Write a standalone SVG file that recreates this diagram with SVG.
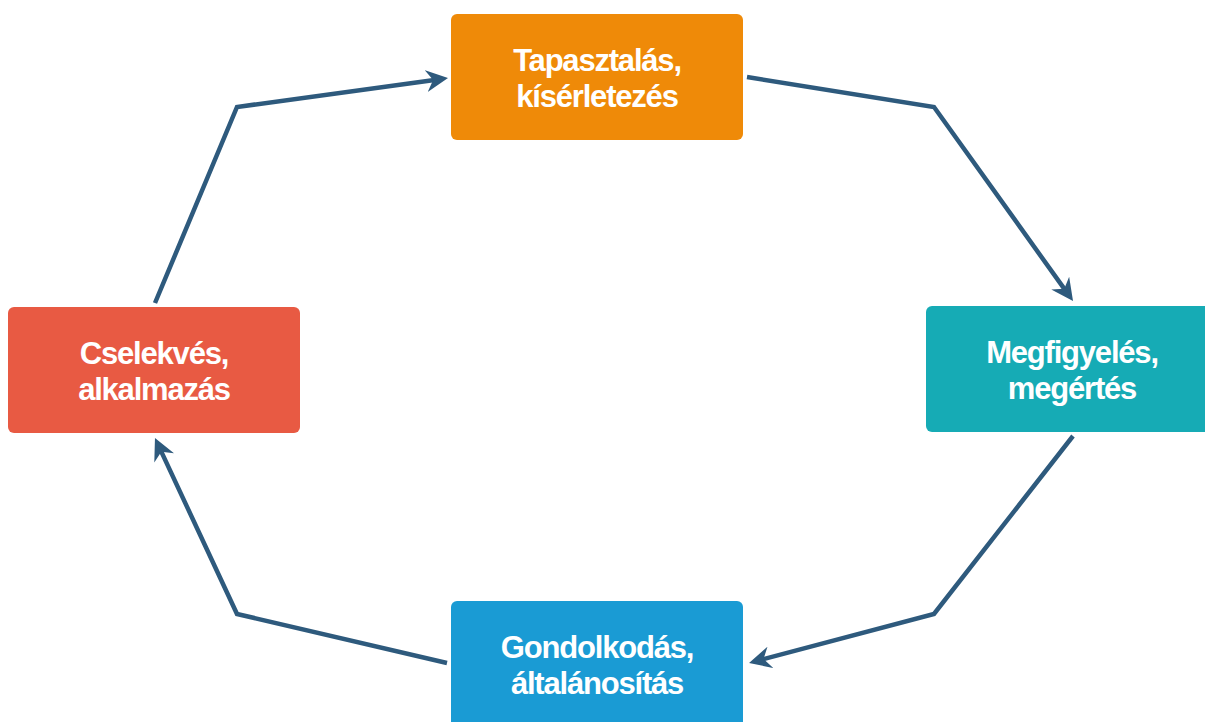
<svg xmlns="http://www.w3.org/2000/svg" width="1205" height="722" viewBox="0 0 1205 722">
<style>
.box{stroke:none}
.lbl{font-family:"Liberation Sans",Arial,sans-serif;font-weight:bold;font-size:31px;fill:#ffffff;text-anchor:middle;letter-spacing:-1.2px}
.conn{fill:none;stroke:#2e5a7d;stroke-width:4.5;stroke-linejoin:miter;marker-end:url(#arr)}
</style>
<defs>
<marker id="arr" viewBox="0 0 22 22" refX="12" refY="11" markerWidth="22" markerHeight="22" markerUnits="userSpaceOnUse" orient="auto">
<path d="M0,0 L22,11 L0,22 L7,11 z" fill="#2e5a7d"/>
</marker>
</defs>
<rect width="1205" height="722" fill="#ffffff"/>
<g id="connectors">
<polyline class="conn" points="747,77 934,107 1067.2,292.9"/>
<polyline class="conn" points="1073,436 934,614 758.7,660.4"/>
<polyline class="conn" points="447,663 237,614 159.2,447.1"/>
<polyline class="conn" points="155,303 237,107 438.1,79.4"/>
</g>
<g id="node-tapasztalas">
<rect class="box" x="451" y="14" width="292" height="126" rx="6" fill="#ef8a08"/>
<text class="lbl" x="597" y="71">Tapasztalás,</text>
<text class="lbl" x="597" y="107">kísérletezés</text>
</g>
<g id="node-megfigyeles">
<rect class="box" x="926" y="306" width="292" height="126" rx="6" fill="#16abb5"/>
<text class="lbl" x="1072" y="363">Megfigyelés,</text>
<text class="lbl" x="1072" y="399">megértés</text>
</g>
<g id="node-gondolkodas">
<rect class="box" x="451" y="601" width="292" height="126" rx="6" fill="#1a9bd4"/>
<text class="lbl" x="597" y="658">Gondolkodás,</text>
<text class="lbl" x="597" y="694">általánosítás</text>
</g>
<g id="node-cselekves">
<rect class="box" x="8" y="307" width="292" height="126" rx="6" fill="#e85a43"/>
<text class="lbl" x="154" y="364">Cselekvés,</text>
<text class="lbl" x="154" y="400">alkalmazás</text>
</g>
</svg>
